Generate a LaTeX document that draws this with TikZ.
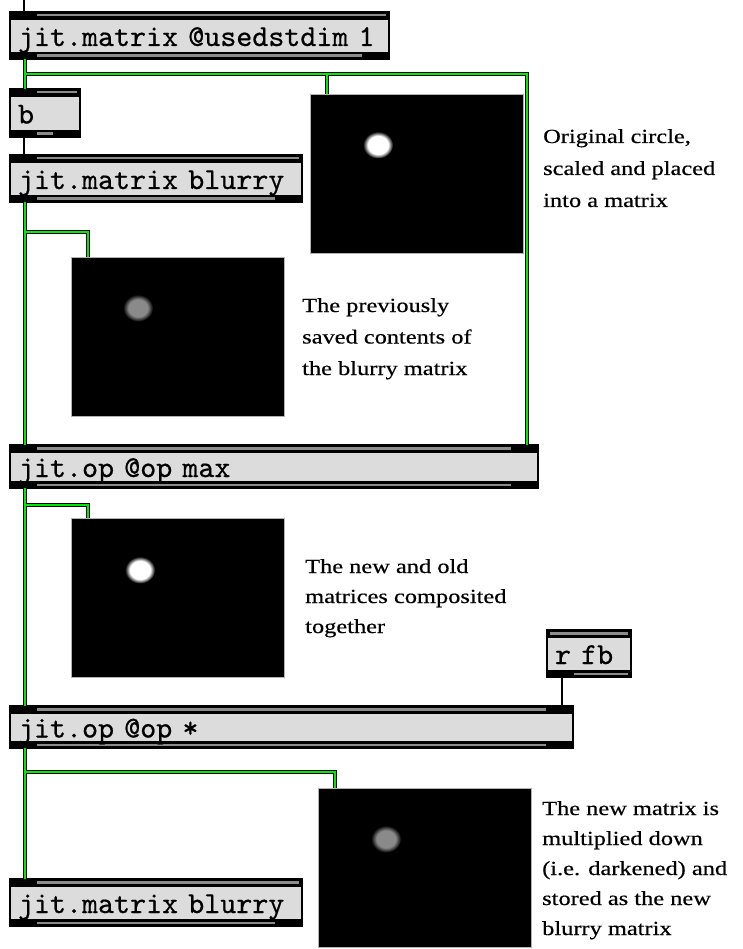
\documentclass[tikz,border=0pt]{standalone}
\usepackage{fontspec}
\newfontfamily\notefont[FakeStretch=1.22,FakeBold=0.5]{Liberation Serif}
\newfontfamily\boxfont{lmmono10-regular.otf}[FakeBold=0.6]
\definecolor{cordgreen}{RGB}{0,235,0}
\definecolor{boxgray}{RGB}{220,220,220}
\definecolor{bandgray}{RGB}{140,140,140}
\definecolor{spotgray}{RGB}{138,138,138}
\pgfdeclareradialshading{brightspot}{\pgfpoint{0bp}{0bp}}{color(0bp)=(white); color(17bp)=(white); color(25bp)=(black); color(50bp)=(black)}
\pgfdeclareradialshading{dimspot}{\pgfpoint{0bp}{0bp}}{color(0bp)=(spotgray); color(16bp)=(spotgray); color(25bp)=(black); color(50bp)=(black)}
\begin{document}
\begin{tikzpicture}[x=1pt,y=-1pt]
\tikzset{
  mxbox/.style n args={4}{draw=black,line width=1.4pt,fill=boxgray,anchor=north west,outer sep=0pt,
    inner xsep=8pt,inner ysep=0pt,align=left,text height=24pt,text depth=3pt,minimum height=47pt,
    font=\boxfont\fontsize{30.5}{30.5}\selectfont,
    path picture={
      \fill[black] (path picture bounding box.north west) rectangle ([yshift=-8pt]path picture bounding box.north east);
      \fill[black] (path picture bounding box.south west) rectangle ([yshift=7pt]path picture bounding box.south east);
      \fill[bandgray] ([xshift=#1,yshift=-2pt]path picture bounding box.north west) rectangle ([xshift=-#2,yshift=-4.5pt]path picture bounding box.north east);
      \fill[bandgray] ([xshift=#3,yshift=2pt]path picture bounding box.south west) rectangle ([xshift=-#4,yshift=4.5pt]path picture bounding box.south east);
    }},
  screen/.style={draw=gray!60,line width=0.8pt,fill=black,anchor=north west,outer sep=0pt,inner sep=0pt,
    minimum width=213pt,minimum height=159pt},
  note/.style={anchor=base west,inner sep=0pt,align=left,font=\notefont\fontsize{20}{#1}\selectfont},
  note/.default=30,
  mxcord/.style={draw=cordgreen,line width=2pt,preaction={draw=black,line width=3.2pt}},
  plaincord/.style={draw=black,line width=2pt}
}
\useasboundingbox (0,0) rectangle (742,949);

\node[mxbox={27pt}{3pt}{27pt}{27pt},text width=363pt] (src) at (10,12) {jit.matrix @usedstdim 1};
\node[mxbox={27pt}{3pt}{27pt}{27pt},text width=54pt,minimum height=48pt] (bang) at (10,89) {b};
\node[mxbox={27pt}{3pt}{27pt}{27pt},text width=276pt] (blurry) at (10,155) {jit.matrix blurry};
\node[mxbox={27pt}{27pt}{27pt}{27pt},text width=512pt,minimum height=43pt] (opmax) at (10,445) {jit.op @op max};
\node[mxbox={3pt}{3pt}{27pt}{3pt},text width=68pt] (frombus) at (547,630) {r fb};
\node[mxbox={27pt}{27pt}{27pt}{27pt},text width=547pt,minimum height=42pt] (opmul) at (10,706) {jit.op @op *};
\node[mxbox={27pt}{3pt}{27pt}{27pt},text width=276pt] (store) at (10,879) {jit.matrix blurry};

\foreach \n/\x/\y/\s/\dx/\dy in {1/310/94/brightspot/68/51,2/71/257/dimspot/67/51,
    3/71/518/brightspot/69/52,4/318/788/dimspot/68/51}{
  \node[screen] (shot\n) at (\x,\y) {};
  \shade[shading=\s] ([shift={(\dx,\dy)}]shot\n.north west) ellipse (15 and 13.5);
}

\node[note=32] (orignote) at (543,207) {Original circle,\\scaled and placed\\into a matrix};
\node[note=31.5] (oldnote) at (302,375) {The previously\\saved contents of\\the blurry matrix};
\node[note] (maxnote) at (305,633) {The new and old\\matrices composited\\together};
\node[note] (mulnote) at (542,935) {The new matrix is\\multiplied down\\(i.e. darkened) and\\stored as the new\\blurry matrix};

\coordinate (feed) at (24,0);
\coordinate (fan1) at (25,74);
\coordinate (fan2) at (25,232);
\coordinate (fan3) at (25,505);
\coordinate (fan4) at (25,772);

\draw[plaincord] (feed) -- ([xshift=14pt]src.north west);
\draw[mxcord] ([xshift=15pt]src.south west) -- ([xshift=15pt]bang.north west)
  (fan1) -| ([xshift=17pt]shot1.north west)
  (fan1) -| ([xshift=-11pt]opmax.north east);
\draw[plaincord] ([xshift=14pt]bang.south west) -- ([xshift=14pt]blurry.north west);
\draw[mxcord] ([xshift=15pt]blurry.south west) -- ([xshift=15pt]opmax.north west)
  (fan2) -| ([xshift=17pt]shot2.north west);
\draw[mxcord] ([xshift=15pt]opmax.south west) -- ([xshift=15pt]opmul.north west)
  (fan3) -| ([xshift=17pt]shot3.north west);
\draw[plaincord] ([xshift=15pt]frombus.south west) -- ([xshift=15pt]frombus.south west |- opmul.north);
\draw[mxcord] ([xshift=15pt]opmul.south west) -- ([xshift=15pt]store.north west)
  (fan4) -| ([xshift=17pt]shot4.north west);
\end{tikzpicture}
\end{document}
